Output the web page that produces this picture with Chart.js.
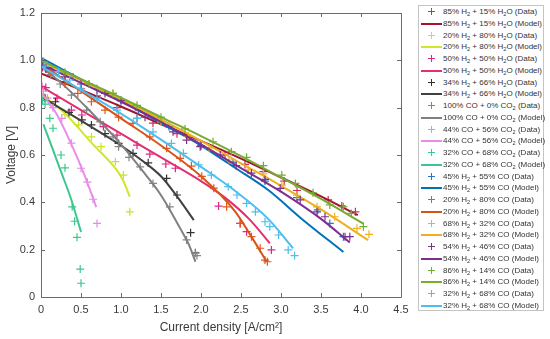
<!DOCTYPE html>
<html>
<head>
<meta charset="utf-8">
<script src="https://cdn.jsdelivr.net/npm/chart.js@4/dist/chart.umd.min.js"></script>
<style>
    body { margin: 0; background: #fff; }
    #wrap { position: relative; width: 550px; height: 339px; }
    #legend {
        position: absolute; left: 418px; top: 5px; width: 126px; height: 306px;
        border: 1px solid #c4c4c4; background: #fff; box-sizing: border-box;
        font-family: "Liberation Sans", Arial, sans-serif; font-size: 8px; color: #333;
    }
    .row { position: relative; height: 11.75px; }
    .line { position: absolute; left: 2px; width: 21px; height: 2px; top: 5px; }
    .ph { position: absolute; left: 9px; top: 5px; width: 7px; height: 1px; }
    .pv { position: absolute; left: 12px; top: 2px; width: 1px; height: 7px; }
    .txt { position: absolute; left: 24px; top: 0; line-height: 11px; white-space: nowrap; }
    .txt sub { font-size: 70%; vertical-align: -2px; line-height: 0; }
</style>
</head>
<body>
<div id="wrap">
    <canvas id="ivChart" width="550" height="339"></canvas>
    <div id="legend"></div>
</div>
<script>
/* ================= DATA ================= */
var xRange = [0, 4.5, 0.5];
var yRange = [0, 1.2, 0.2];
var xTitle = "Current density [A/cm²]";
var yTitle = "Voltage [V]";

var seriesLabels = [
    "85% H₂ + 15% H₂O", "20% H₂ + 80% H₂O", "50% H₂ + 50% H₂O", "34% H₂ + 66% H₂O",
    "100% CO + 0% CO₂", "44% CO + 56% CO₂", "32% CO + 68% CO₂",
    "45% H₂ + 55% CO", "20% H₂ + 80% CO", "68% H₂ + 32% CO",
    "54% H₂ + 46% CO", "86% H₂ + 14% CO", "32% H₂ + 68% CO"
];
var dataColors = [
    "#cf2a5c", "#cde21e", "#e0248a", "#333333",
    "#858585", "#e68ae6", "#38c98c",
    "#1f78c8", "#e0581c", "#efb21e",
    "#7e2f8e", "#74ac30", "#4dbeee"
];
var modelColors = [
    "#a2142f", "#d3e52a", "#e2306e", "#404040",
    "#808080", "#ea8cea", "#3cc690",
    "#0072bd", "#d95319", "#edb120",
    "#7e2f8e", "#77ac30", "#4dbeee"
];

var h2o85Data = [[0.02,0.97],[0.1,0.95],[0.3,0.91],[0.5,0.88],[0.7,0.85],[0.95,0.8],[1.2,0.755],[1.4,0.735],[1.7,0.69],[2.0,0.64],[2.3,0.6],[2.55,0.56],[2.78,0.53],[3.04,0.49],[3.2,0.45],[3.59,0.41],[3.76,0.385],[3.93,0.36]];
var h2o85Model = [[0,0.945],[0.5,0.875],[1,0.805],[1.5,0.73],[2,0.66],[2.5,0.585],[3,0.505],[3.5,0.425],[3.96,0.346]];
var h2o20Data = [[0.05,0.845],[0.15,0.81],[0.3,0.77],[0.47,0.727],[0.63,0.677],[0.75,0.635],[0.93,0.572],[1.03,0.515],[1.11,0.36]];
var h2o20Model = [[0,0.86],[0.3,0.775],[0.65,0.645],[0.95,0.535],[1.03,0.49],[1.11,0.424]];
var h2o50Data = [[0.01,0.89],[0.06,0.885],[0.2,0.84],[0.38,0.79],[0.51,0.769],[0.78,0.72],[0.95,0.684],[1.2,0.642],[1.36,0.604],[1.56,0.562],[1.68,0.544],[2.22,0.384],[2.49,0.311],[2.57,0.276],[2.88,0.199]];
var h2o50Model = [[0,0.89],[0.5,0.79],[1,0.69],[1.5,0.59],[2,0.49],[2.3,0.42],[2.6,0.33],[2.86,0.227]];
var h2o34Data = [[0.05,0.84],[0.18,0.825],[0.35,0.78],[0.51,0.748],[0.63,0.727],[0.8,0.69],[0.97,0.649],[1.15,0.607],[1.34,0.567],[1.57,0.501],[1.7,0.431],[1.87,0.272],[1.93,0.187]];
var h2o34Model = [[0.03,0.84],[0.5,0.745],[1,0.64],[1.25,0.58],[1.5,0.51],[1.7,0.425],[1.91,0.325]];
var co100Data = [[0.05,0.97],[0.12,0.94],[0.24,0.9],[0.38,0.853],[0.57,0.79],[0.74,0.74],[0.9,0.677],[0.97,0.635],[1.1,0.59],[1.24,0.55],[1.4,0.48],[1.61,0.381],[1.82,0.241],[1.93,0.185],[1.95,0.175]];
var co100Model = [[0,0.975],[0.3,0.89],[0.6,0.79],[1,0.645],[1.3,0.52],[1.5,0.43],[1.74,0.29],[1.85,0.22],[1.93,0.149]];
var co44Data = [[0.03,0.87],[0.08,0.84],[0.15,0.8],[0.26,0.755],[0.38,0.65],[0.5,0.544],[0.58,0.485],[0.65,0.413],[0.7,0.311]];
var co44Model = [[0,0.865],[0.2,0.77],[0.38,0.645],[0.55,0.51],[0.69,0.38]];
var co32Data = [[0.02,0.83],[0.05,0.815],[0.11,0.755],[0.15,0.713],[0.25,0.6],[0.3,0.546],[0.39,0.381],[0.42,0.32],[0.45,0.252],[0.49,0.118],[0.5,0.058]];
var co32Model = [[0.03,0.73],[0.13,0.64],[0.25,0.53],[0.38,0.41],[0.5,0.275]];
var h2co45Data = [[0.03,0.99],[0.15,0.97],[0.4,0.93],[0.7,0.88],[1.0,0.83],[1.22,0.79],[1.6,0.72],[2.0,0.64],[2.4,0.57],[2.8,0.49],[3.2,0.42],[3.46,0.368],[3.61,0.311],[3.78,0.255]];
var h2co45Model = [[0,1.01],[0.5,0.92],[1,0.83],[1.5,0.735],[2,0.64],[2.43,0.545],[2.84,0.452],[3.26,0.33],[3.78,0.19]];
var h2co20Data = [[0.02,0.99],[0.12,0.95],[0.3,0.9],[0.46,0.86],[0.63,0.825],[0.8,0.79],[0.97,0.76],[1.15,0.734],[1.36,0.677],[1.57,0.628],[1.74,0.586],[1.88,0.553],[2.01,0.51],[2.16,0.46],[2.32,0.381],[2.49,0.311],[2.63,0.255],[2.74,0.206],[2.8,0.156],[2.83,0.149]];
var h2co20Model = [[0,0.985],[0.5,0.87],[1,0.755],[1.5,0.64],[2,0.51],[2.43,0.36],[2.63,0.255],[2.82,0.149]];
var h2co68Data = [[0.03,0.99],[0.3,0.94],[0.6,0.9],[0.9,0.86],[1.2,0.8],[1.5,0.74],[1.84,0.68],[2.1,0.63],[2.35,0.58],[2.59,0.537],[2.78,0.52],[3.01,0.473],[3.2,0.43],[3.45,0.381],[3.67,0.339],[3.95,0.29],[4.1,0.265]];
var h2co68Model = [[0,0.995],[0.5,0.915],[1,0.835],[1.5,0.75],[2,0.66],[2.5,0.565],[3,0.47],[3.5,0.37],[4.09,0.24]];
var h2co54Data = [[0.02,0.98],[0.06,0.965],[0.3,0.93],[0.5,0.9],[0.8,0.86],[1.0,0.83],[1.3,0.76],[1.65,0.698],[1.82,0.663],[1.99,0.635],[2.24,0.6],[2.44,0.555],[2.63,0.523],[2.8,0.497],[2.99,0.459],[3.24,0.41],[3.45,0.36],[3.55,0.339],[3.8,0.255],[3.86,0.255]];
var h2co54Model = [[0,0.985],[0.5,0.905],[1,0.825],[1.5,0.74],[2,0.645],[2.5,0.545],[3,0.445],[3.5,0.33],[3.86,0.23]];
var h2co86Data = [[0.03,0.995],[0.3,0.95],[0.6,0.9],[0.9,0.86],[1.2,0.81],[1.5,0.76],[1.8,0.71],[2.15,0.656],[2.38,0.614],[2.57,0.59],[2.78,0.555],[3.01,0.515],[3.18,0.48],[3.4,0.44],[3.61,0.389],[3.78,0.381],[3.88,0.353],[4.03,0.297]];
var h2co86Model = [[0,1.0],[0.5,0.92],[1,0.842],[1.5,0.76],[2,0.68],[2.5,0.595],[3,0.505],[3.5,0.415],[4.03,0.31]];
var h2co32Data = [[0.05,0.975],[0.22,0.952],[0.36,0.917],[0.49,0.882],[0.7,0.84],[0.95,0.79],[1.2,0.755],[1.4,0.698],[1.63,0.649],[1.78,0.607],[1.97,0.558],[2.13,0.515],[2.34,0.466],[2.45,0.431],[2.57,0.396],[2.68,0.36],[2.8,0.318],[2.86,0.297],[2.97,0.262],[3.09,0.199],[3.17,0.175]];
var h2co32Model = [[0,0.975],[0.5,0.875],[1,0.775],[1.5,0.665],[2,0.55],[2.4,0.455],[2.84,0.33],[3.15,0.206]];

var measured = [h2o85Data, h2o20Data, h2o50Data, h2o34Data, co100Data, co44Data, co32Data,
    h2co45Data, h2co20Data, h2co68Data, h2co54Data, h2co86Data, h2co32Data];
var fitted = [h2o85Model, h2o20Model, h2o50Model, h2o34Model, co100Model, co44Model, co32Model,
    h2co45Model, h2co20Model, h2co68Model, h2co54Model, h2co86Model, h2co32Model];

/* ================= STYLE ================= */
var axisColor = "#6b6b6b";
var textColor = "#3a3a3a";
var axisFont = "'Liberation Sans', Arial, sans-serif";

/* ================= INIT ================= */
document.addEventListener("DOMContentLoaded", function () {
    var datasets = buildDatasets();
    renderChart("ivChart", datasets);
    buildLegend(datasets);
});

/* ================= DATASETS ================= */
function toPoints(pairs) {
    return pairs.map(function (p) { return { x: p[0], y: p[1] }; });
}
function buildDatasets() {
    var sets = [];
    var n = seriesLabels.length * 2;
    seriesLabels.forEach(function (name, i) {
        sets.push({
            label: name + " (Data)",
            data: toPoints(measured[i]),
            showLine: false,
            pointStyle: "cross",
            pointRadius: 4,
            pointBorderWidth: 1.2,
            borderColor: dataColors[i],
            backgroundColor: dataColors[i],
            order: n - sets.length
        });
        sets.push({
            label: name + " (Model)",
            data: toPoints(fitted[i]),
            showLine: true,
            pointRadius: 0,
            borderWidth: 2,
            cubicInterpolationMode: "monotone",
            borderColor: modelColors[i],
            backgroundColor: modelColors[i],
            order: n - sets.length
        });
    });
    return sets;
}

/* ================= AXES BOX ================= */
var boxPlugin = {
    id: "axesBox",
    afterDraw: function (chart) {
        var ctx = chart.ctx;
        var a = chart.chartArea;
        var xs = chart.scales.x;
        var ys = chart.scales.y;
        var len = 4;
        ctx.save();
        ctx.strokeStyle = axisColor;
        ctx.lineWidth = 1;
        ctx.beginPath();
        ctx.rect(Math.round(a.left) + 0.5, Math.round(a.top) + 0.5,
            Math.round(a.right - a.left), Math.round(a.bottom - a.top));
        xs.ticks.forEach(function (t) {
            var px = Math.round(xs.getPixelForValue(t.value)) + 0.5;
            ctx.moveTo(px, a.bottom); ctx.lineTo(px, a.bottom - len);
            ctx.moveTo(px, a.top); ctx.lineTo(px, a.top + len);
        });
        ys.ticks.forEach(function (t) {
            var py = Math.round(ys.getPixelForValue(t.value)) + 0.5;
            ctx.moveTo(a.left, py); ctx.lineTo(a.left + len, py);
            ctx.moveTo(a.right, py); ctx.lineTo(a.right - len, py);
        });
        ctx.stroke();
        ctx.restore();
    }
};

/* ================= CHART ================= */
function renderChart(id, datasets) {
    var canvas = document.getElementById(id);
    if (!canvas)
        return;
    var ctx = canvas.getContext("2d");
    new Chart(ctx, {
        type: "scatter",
        data: { datasets: datasets },
        options: {
            responsive: false,
            animation: false,
            layout: { padding: { top: 13, right: 149, bottom: 0, left: 0 } },
            plugins: { legend: { display: false }, tooltip: { enabled: false } },
            scales: {
                x: {
                    type: "linear",
                    min: xRange[0], max: xRange[1],
                    ticks: { stepSize: xRange[2], padding: 6, color: textColor, font: { family: axisFont, size: 11 } },
                    grid: { display: false, drawTicks: false },
                    border: { display: false },
                    title: { display: true, text: xTitle, color: textColor, padding: { top: 4, bottom: 4 }, font: { family: axisFont, size: 12 } },
                    afterFit: function (scale) { scale.height = 42; }
                },
                y: {
                    type: "linear",
                    min: yRange[0], max: yRange[1],
                    ticks: { stepSize: yRange[2], padding: 6, color: textColor, font: { family: axisFont, size: 11 } },
                    grid: { display: false, drawTicks: false },
                    border: { display: false },
                    title: { display: true, text: yTitle, color: textColor, padding: { top: 4, bottom: 4 }, font: { family: axisFont, size: 12 } },
                    afterFit: function (scale) { scale.width = 41; }
                }
            }
        },
        plugins: [boxPlugin]
    });
}

/* ================= LEGEND ================= */
function subscriptHtml(text) {
    return text.replace(/₂/g, "<sub>2</sub>");
}
function buildLegend(datasets) {
    var box = document.getElementById("legend");
    if (!box)
        return;
    var html = "";
    datasets.forEach(function (ds) {
        var mark;
        if (ds.showLine) {
            mark = '<div class="line" style="background:' + ds.borderColor + '"></div>';
        }
        else {
            mark = '<div class="ph" style="background:' + ds.borderColor + '"></div>' +
                '<div class="pv" style="background:' + ds.borderColor + '"></div>';
        }
        html += '<div class="row">' + mark + '<span class="txt">' + subscriptHtml(ds.label) + "</span></div>";
    });
    box.innerHTML = html;
}
</script>
</body>
</html>
